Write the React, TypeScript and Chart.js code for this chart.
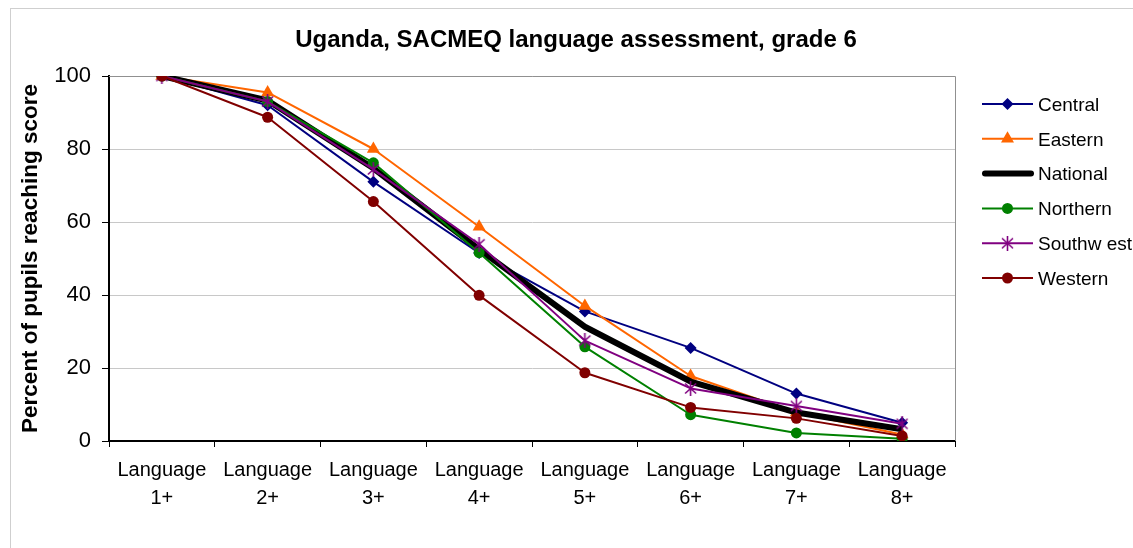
import React, { useEffect, useRef } from 'react';
import { Chart, registerables } from 'chart.js';

Chart.register(...registerables);

const FONT = "'Liberation Sans', Arial, sans-serif";

const chartTitle = 'Uganda, SACMEQ language assessment, grade 6';
const yAxisTitle = 'Percent of pupils reaching score';

const categories: string[][] = [
  ['Language', '1+'],
  ['Language', '2+'],
  ['Language', '3+'],
  ['Language', '4+'],
  ['Language', '5+'],
  ['Language', '6+'],
  ['Language', '7+'],
  ['Language', '8+'],
];

const seriesNames = ['Central', 'Eastern', 'National', 'Northern', 'Southw est', 'Western'];

const central = [100, 92, 71, 51.5, 35.5, 25.5, 13, 5];
const eastern = [100, 95.5, 80, 58.7, 37, 17.8, 7.8, 1.8];
const national = [100, 93.3, 74.7, 52.5, 31.3, 16.3, 7.8, 3.2];
const northern = [100, 93, 76.2, 51.6, 25.8, 7.2, 2.2, 0.6];
const southwest = [100, 93, 74.4, 53.9, 27.5, 14.4, 9.6, 4.7];
const western = [100, 88.7, 65.6, 39.9, 18.7, 9.2, 6.2, 1.4];

const yTicks = [0, 20, 40, 60, 80, 100];

export default function App() {
  const ref = useRef<HTMLCanvasElement>(null);

  useEffect(() => {
    const canvas = ref.current;
    if (!canvas) return;

    const star = document.createElement('canvas');
    star.width = 15;
    star.height = 15;
    const sc = star.getContext('2d')!;
    sc.strokeStyle = '#800080';
    sc.lineWidth = 1.6;
    sc.beginPath();
    sc.moveTo(2, 2.5); sc.lineTo(13, 12.5);
    sc.moveTo(13, 2.5); sc.lineTo(2, 12.5);
    sc.moveTo(7.5, 0); sc.lineTo(7.5, 15);
    sc.stroke();

    const specs = [
      { data: central, color: '#000080', style: 'rectRot', radius: 6, width: 2 },
      { data: eastern, color: '#FF6600', style: 'triangle', radius: 7.5, width: 2 },
      { data: national, color: '#000000', style: 'none', radius: 0, width: 6 },
      { data: northern, color: '#008000', style: 'circle', radius: 5.5, width: 2 },
      { data: southwest, color: '#800080', style: 'star', radius: 7, width: 2 },
      { data: western, color: '#800000', style: 'circle', radius: 5.5, width: 2 },
    ];

    const drawMarker = (ctx: CanvasRenderingContext2D, style: string, x: number, y: number, r: number, color: string) => {
      ctx.save();
      ctx.fillStyle = color;
      ctx.strokeStyle = color;
      if (style === 'rectRot') {
        ctx.beginPath();
        ctx.moveTo(x, y - r); ctx.lineTo(x + r, y); ctx.lineTo(x, y + r); ctx.lineTo(x - r, y);
        ctx.closePath(); ctx.fill();
      } else if (style === 'triangle') {
        const w = r * Math.sin(Math.PI / 3);
        ctx.beginPath();
        ctx.moveTo(x, y - r); ctx.lineTo(x + w, y + r / 2); ctx.lineTo(x - w, y + r / 2);
        ctx.closePath(); ctx.fill();
      } else if (style === 'circle') {
        ctx.beginPath(); ctx.arc(x, y, r, 0, Math.PI * 2); ctx.fill();
      } else if (style === 'star') {
        ctx.drawImage(star, x - star.width / 2, y - star.height / 2);
      }
      ctx.restore();
    };

    const decor = {
      id: 'decor',
      beforeDraw(chart: any) {
        const ctx = chart.ctx as CanvasRenderingContext2D;
        ctx.save();
        ctx.fillStyle = '#ffffff';
        ctx.fillRect(0, 0, chart.width, chart.height);
        ctx.strokeStyle = '#cfcfcf';
        ctx.lineWidth = 1;
        ctx.strokeRect(10.5, 8.5, chart.width + 20, chart.height + 20);
        ctx.restore();
      },
      beforeDatasetsDraw(chart: any) {
        const ctx = chart.ctx as CanvasRenderingContext2D;
        const a = chart.chartArea;
        ctx.save();
        ctx.strokeStyle = '#909090';
        ctx.lineWidth = 1;
        ctx.beginPath();
        ctx.moveTo(a.left, Math.round(a.top) + 0.5);
        ctx.lineTo(Math.round(a.right) + 0.5, Math.round(a.top) + 0.5);
        ctx.lineTo(Math.round(a.right) + 0.5, a.bottom);
        ctx.stroke();
        ctx.restore();
      },
      afterDraw(chart: any) {
        const ctx = chart.ctx as CanvasRenderingContext2D;
        ctx.save();
        ctx.fillStyle = '#000';
        ctx.font = `bold 24px ${FONT}`;
        ctx.textAlign = 'center';
        ctx.textBaseline = 'alphabetic';
        ctx.fillText(chartTitle, 576, 47);

        ctx.font = `19px ${FONT}`;
        ctx.textAlign = 'left';
        specs.forEach((s, i) => {
          const y = 104 + i * 34.8;
          ctx.strokeStyle = s.color;
          ctx.lineWidth = s.width;
          ctx.lineCap = s.width > 3 ? 'round' : 'butt';
          ctx.beginPath();
          ctx.moveTo(s.width > 3 ? 985 : 982, y);
          ctx.lineTo(s.width > 3 ? 1031 : 1033, y);
          ctx.stroke();
          drawMarker(ctx, s.style, 1007.5, y, s.radius, s.color);
          ctx.fillStyle = '#000';
          ctx.fillText(seriesNames[i], 1038, y + 6.8);
        });
        ctx.restore();
      },
    };

    const chart = new Chart(canvas, {
      type: 'line',
      data: {
        labels: categories as any,
        datasets: specs.map((s, i) => ({
          label: seriesNames[i],
          data: s.data,
          borderColor: s.color,
          backgroundColor: s.color,
          borderWidth: s.width,
          pointStyle: (s.style === 'star' ? star : s.style === 'none' ? false : s.style) as any,
          pointRadius: s.radius,
          pointBorderWidth: 0,
          pointHoverRadius: s.radius,
          tension: 0,
          fill: false,
          order: specs.length - i,
          borderJoinStyle: 'round' as const,
        })),
      },
      options: {
        responsive: false,
        animation: false,
        events: [],
        layout: { padding: { left: 0, top: 76, right: 178, bottom: 0 } },
        plugins: {
          legend: { display: false },
          title: { display: false },
          tooltip: { enabled: false },
        },
        scales: {
          x: {
            type: 'category',
            offset: true,
            afterFit: (scale: any) => { scale.height = 107; },
            grid: {
              offset: true,
              drawOnChartArea: false,
              drawTicks: true,
              tickLength: 6,
              tickColor: '#000',
              tickWidth: 1,
            },
            border: { display: true, color: '#000', width: 2 },
            ticks: {
              color: '#000',
              font: { family: FONT, size: 20, lineHeight: 28 / 20 },
              padding: 9,
              maxRotation: 0,
              autoSkip: false,
            },
          },
          y: {
            min: 0,
            max: 100,
            afterFit: (scale: any) => { scale.width = 109; },
            afterBuildTicks: (scale: any) => { scale.ticks = yTicks.map((v) => ({ value: v })); },
            grid: {
              color: '#c8c8c8',
              lineWidth: 1,
              drawTicks: true,
              tickLength: 7,
              tickColor: '#000',
              tickWidth: 1,
            },
            border: { display: true, color: '#000', width: 2 },
            ticks: {
              color: '#000',
              font: { family: FONT, size: 22 },
              padding: 11,
            },
            title: {
              display: true,
              text: yAxisTitle,
              color: '#000',
              font: { family: FONT, size: 22.5, weight: 'bold' },
              padding: { top: 17, bottom: 0 },
            },
          },
        },
      },
      plugins: [decor],
    });

    return () => chart.destroy();
  }, []);

  return (
    <canvas
      ref={ref}
      width={1133}
      height={548}
      style={{ position: 'absolute', left: 0, top: 0, width: 1133, height: 548, display: 'block' }}
    />
  );
}
